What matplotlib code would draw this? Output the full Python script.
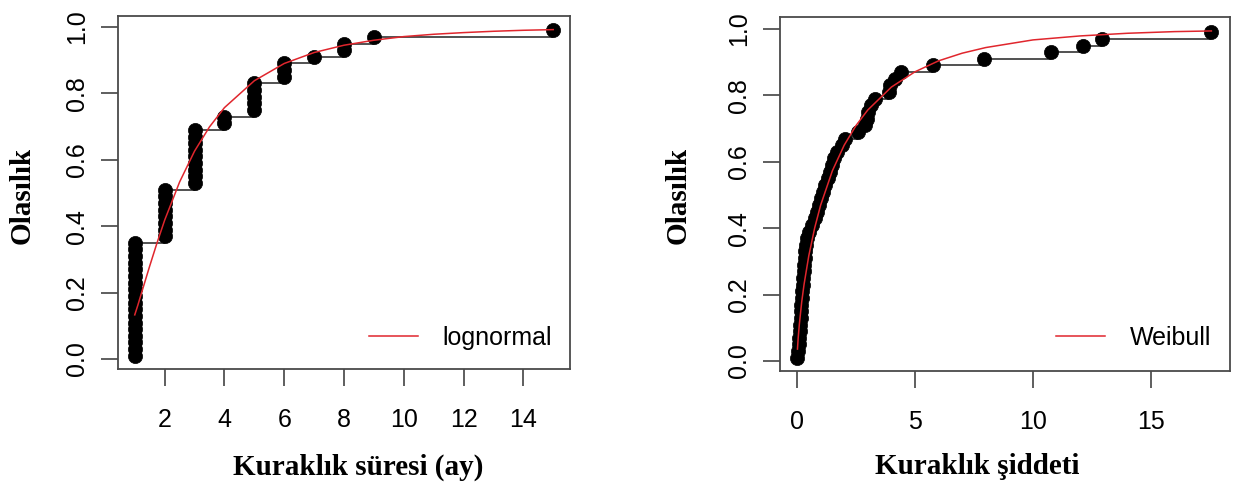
import numpy as np
import matplotlib
matplotlib.use("Agg")
import matplotlib.pyplot as plt

# ---------------- data ----------------
# Left panel: drought duration (months) and how many events share each value
duration_values = [1, 2, 3, 4, 5, 6, 7, 8, 9, 15]
duration_counts = [18, 8, 9, 2, 5, 3, 1, 2, 1, 1]

# fitted lognormal CDF
lognorm_x = [1.0, 1.1, 1.25, 1.5, 1.75, 2.0, 2.5, 3.0, 3.5, 4.0, 5.0, 6.0, 7.0,
             8.0, 9.0, 10.0, 11.0, 12.0, 13.0, 14.0, 15.0]
lognorm_p = [0.133, 0.161, 0.206, 0.280, 0.351, 0.418, 0.533, 0.626, 0.699, 0.757,
             0.838, 0.890, 0.923, 0.945, 0.960, 0.971, 0.978, 0.983, 0.987, 0.990, 0.992]

# Right panel: drought severity (sorted)
severity = [0.02, 0.05, 0.07, 0.09, 0.11, 0.13, 0.15, 0.17, 0.19, 0.21,
            0.23, 0.25, 0.27, 0.29, 0.31, 0.33, 0.35, 0.38, 0.42, 0.50,
            0.62, 0.75, 0.85, 0.95, 1.02, 1.10, 1.20, 1.33, 1.40, 1.48,
            1.56, 1.70, 1.90, 2.05, 2.60, 2.90, 2.97, 3.02, 3.15, 3.31,
            3.90, 3.93, 4.15, 4.39, 5.78, 7.91, 10.77, 12.13, 12.93, 17.56]

# fitted Weibull CDF
weibull_x = [0.02, 0.05, 0.1, 0.2, 0.3, 0.5, 0.75, 1.0, 1.5, 2.0, 2.5, 3.0, 4.0,
             5.0, 6.0, 7.0, 8.0, 10.0, 12.0, 14.0, 16.0, 17.56]
weibull_p = [0.036, 0.069, 0.111, 0.178, 0.231, 0.317, 0.401, 0.469, 0.573, 0.650,
             0.709, 0.756, 0.825, 0.871, 0.904, 0.927, 0.944, 0.967, 0.979, 0.987,
             0.992, 0.994]

left_xticks = [2, 4, 6, 8, 10, 12, 14]
right_xticks = [0, 5, 10, 15]
yticks = [0.0, 0.2, 0.4, 0.6, 0.8, 1.0]
ytick_labels = ["0.0", "0.2", "0.4", "0.6", "0.8", "1.0"]

ylabel = "Olasılık"
left_xlabel = "Kuraklık süresi (ay)"
right_xlabel = "Kuraklık şiddeti"
left_legend = "lognormal"
right_legend = "Weibull"

# ---------------- style ----------------
W, H = 1233, 488
fig = plt.figure(figsize=(W / 100, H / 100), dpi=100)
fig.patch.set_facecolor("white")

SANS = ["Liberation Sans", "DejaVu Sans"]
SERIF = ["Liberation Serif", "DejaVu Serif"]
RED = "#e0262d"
BOX = "#4a4a4a"


def px_axes(l, r, t, b):
    return fig.add_axes([l / W, 1 - b / H, (r - l) / W, (b - t) / H])


def style_axes(ax, xticks):
    for s in ax.spines.values():
        s.set_color(BOX)
        s.set_linewidth(1.3)
    ax.set_xticks(xticks)
    ax.set_xticklabels([str(t) for t in xticks], fontfamily=SANS, fontsize=18)
    ax.set_yticks(yticks)
    ax.set_yticklabels(ytick_labels, fontfamily=SANS, fontsize=18,
                       rotation=90, va="center")
    ax.tick_params(axis="both", direction="out", length=12, width=1.1,
                   color="#333333")
    ax.tick_params(axis="x", pad=16)
    ax.tick_params(axis="y", pad=9)


def ecdf_panel(ax, xs, curve_x, curve_p, label):
    xs = np.asarray(xs, dtype=float)
    n = len(xs)
    pp = (np.arange(1, n + 1) - 0.5) / n
    ax.step(xs, pp, where="post", color="#222222", lw=1.1, zorder=2)
    ax.plot(xs, pp, "o", ms=10.2, color="black", mec="black", mew=0.5, zorder=3)
    ax.plot(curve_x, curve_p, color=RED, lw=1.1, zorder=4, label=label)


# left panel
ax1 = px_axes(118, 570, 16, 369)
dur = np.repeat(duration_values, duration_counts)
ecdf_panel(ax1, dur, lognorm_x, lognorm_p, left_legend)
ax1.set_xlim(0.44, 15.56)
ax1.set_ylim(-0.030, 1.033)
style_axes(ax1, left_xticks)
ax1.legend(loc="center left", bbox_to_anchor=((369 - 118) / 452, (369 - 338) / 353),
           frameon=False, borderpad=0, borderaxespad=0, handlelength=1.95,
           handletextpad=1.0, prop={"family": SANS, "size": 18})

# right panel
ax2 = px_axes(780, 1230, 17, 371)
ecdf_panel(ax2, severity, weibull_x, weibull_p, right_legend)
ax2.set_xlim(-0.72, 18.35)
ax2.set_ylim(-0.030, 1.036)
style_axes(ax2, right_xticks)
ax2.legend(loc="center left", bbox_to_anchor=((1056 - 780) / 450, (371 - 338) / 354),
           frameon=False, borderpad=0, borderaxespad=0, handlelength=1.95,
           handletextpad=1.0, prop={"family": SANS, "size": 18})

# axis titles (bold serif)
fig.text(22 / W, 1 - 195 / H, ylabel, rotation=90, ha="center", va="center",
         fontfamily=SERIF, fontweight="bold", fontsize=21)
fig.text(678 / W, 1 - 195 / H, ylabel, rotation=90, ha="center", va="center",
         fontfamily=SERIF, fontweight="bold", fontsize=21)
fig.text(358 / W, 1 - 467 / H, left_xlabel, ha="center", va="center",
         fontfamily=SERIF, fontweight="bold", fontsize=21)
fig.text(977 / W, 1 - 467 / H, right_xlabel, ha="center", va="center",
         fontfamily=SERIF, fontweight="bold", fontsize=21)

fig.savefig("out.png", dpi=100, facecolor="white")
